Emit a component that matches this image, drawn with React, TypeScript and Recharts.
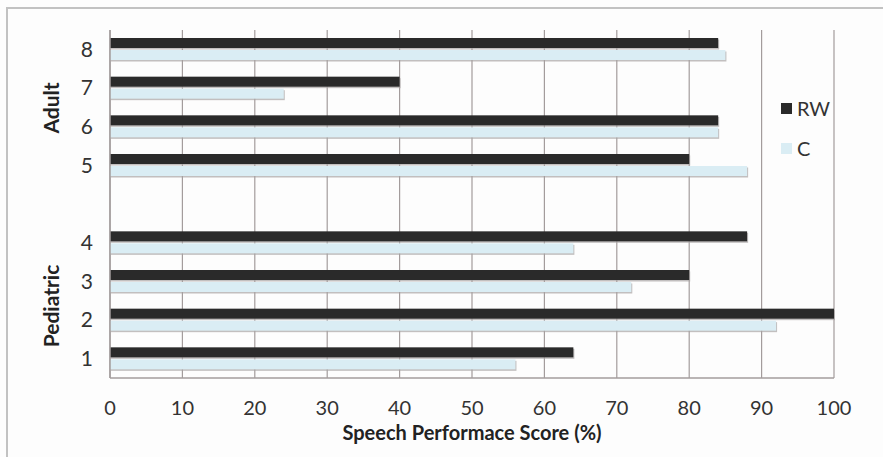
import { BarChart, Bar, XAxis, YAxis, CartesianGrid } from 'recharts'

const categories = ['8', '7', '6', '5', '', '4', '3', '2', '1']
const rwScores = [84, 40, 84, 80, null, 88, 80, 100, 64]
const cScores = [85, 24, 84, 88, null, 64, 72, 92, 56]
const xTicks = [0, 10, 20, 30, 40, 50, 60, 70, 80, 90, 100]
const seriesNames = ['RW', 'C']

const data = categories.map((label, i) => ({
  label,
  RW: rwScores[i],
  C: cScores[i],
}))

const FONT = 'Lato, "Open Sans", sans-serif'
const RW_COLOR = '#2a2a2a'
const C_COLOR = '#daedf4'
const seriesColors = [RW_COLOR, C_COLOR]

function ShadowBar(props: any) {
  const { x, y, width, height, fill } = props
  if (!width || width <= 0) return null
  return (
    <g>
      <rect x={x + 1} y={y + 1.5} width={width} height={height} fill="#a8a4a4" opacity={0.7} />
      <rect x={x} y={y} width={width} height={height} fill={fill} />
    </g>
  )
}

const sideLabel = {
  position: 'absolute' as const,
  left: 50,
  transform: 'translate(-50%, -50%) rotate(-90deg)',
  fontFamily: FONT,
  fontWeight: 'bold' as const,
  fontSize: 21,
  color: '#222',
  whiteSpace: 'nowrap' as const,
}

export default function App() {
  return (
    <div style={{ position: 'fixed', left: 0, top: 0, width: 883, height: 457, background: '#fdfdfd' }}>
      <div style={{ position: 'absolute', left: 6, top: 7, right: 0, height: 2, background: '#c2c2c2' }} />
      <div style={{ position: 'absolute', left: 6, top: 7, bottom: 0, width: 2, background: '#c2c2c2' }} />
      <BarChart
        layout="vertical"
        width={883}
        height={457}
        data={data}
        margin={{ top: 30, right: 49, bottom: 49, left: 10 }}
        barSize={10}
        barGap={2}
      >
        <CartesianGrid horizontal={false} vertical stroke="#a39c9c" strokeWidth={1.2} />
        <XAxis
          type="number"
          domain={[0, 100]}
          ticks={xTicks}
          interval={0}
          height={30}
          tickLine={false}
          tickSize={0}
          tickMargin={23}
          axisLine={{ stroke: '#a39c9c', strokeWidth: 1.5 }}
          tick={{ fontSize: 20, fill: '#333', fontFamily: FONT }}
        />
        <YAxis
          type="category"
          dataKey="label"
          width={100}
          tickLine={false}
          tickSize={0}
          tickMargin={17}
          axisLine={{ stroke: '#a39c9c', strokeWidth: 1.5 }}
          tick={{ fontSize: 21, fill: '#333', fontFamily: FONT }}
          interval={0}
        />
        <Bar dataKey="RW" fill={RW_COLOR} shape={<ShadowBar />} isAnimationActive={false} />
        <Bar dataKey="C" fill={C_COLOR} shape={<ShadowBar />} isAnimationActive={false} />
      </BarChart>
      <div style={{ position: 'absolute', left: 781, top: 88, fontFamily: FONT }}>
        {seriesNames.map((name, i) => (
          <div key={name} style={{ display: 'flex', alignItems: 'center', height: 40 }}>
            <span style={{ width: 11, height: 11, background: seriesColors[i], marginRight: 5 }} />
            <span style={{ fontSize: 20, color: '#333' }}>{name}</span>
          </div>
        ))}
      </div>
      <div
        style={{
          position: 'absolute',
          left: 110,
          width: 724,
          top: 420,
          textAlign: 'center',
          fontFamily: FONT,
          fontWeight: 'bold',
          fontSize: 20,
          color: '#222',
        }}
      >
        Speech Performace Score (%)
      </div>
      <div style={{ ...sideLabel, top: 108 }}>Adult</div>
      <div style={{ ...sideLabel, top: 306 }}>Pediatric</div>
    </div>
  )
}
